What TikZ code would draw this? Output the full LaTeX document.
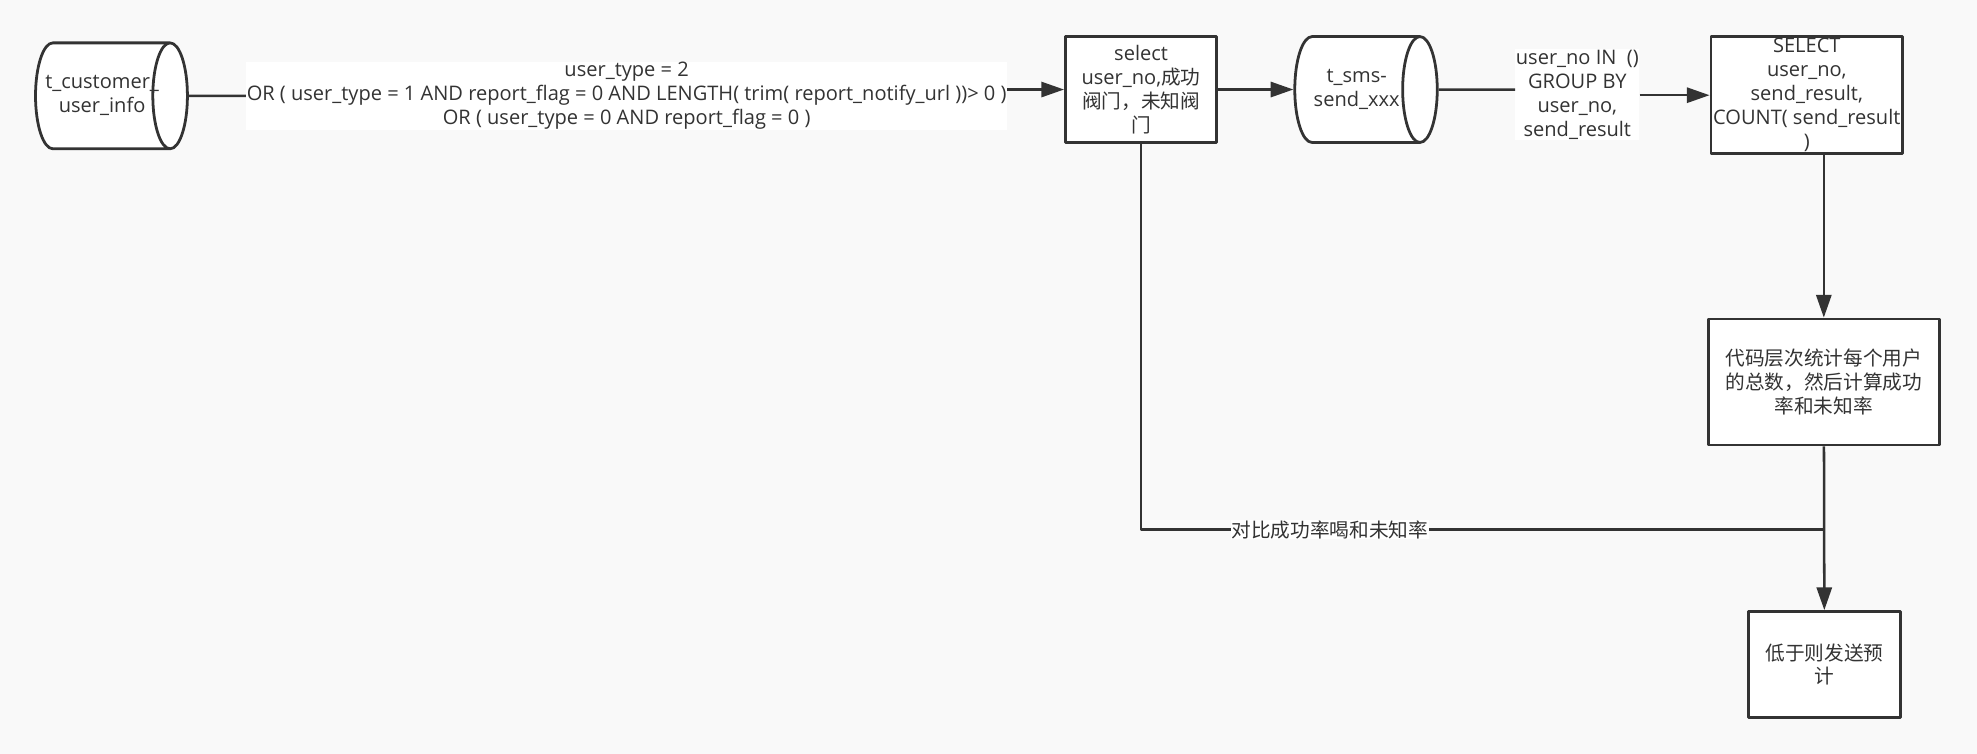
\documentclass[tikz,border=0pt]{standalone}
\usepackage{fontspec}
\setmainfont{Open Sans}
\newfontfamily\cjk{Noto Sans CJK SC}
\newcommand\zhtxt[1]{{\cjk\fontsize{15.6}{19}\selectfont #1}}
\usetikzlibrary{shapes.geometric,arrows.meta}
\definecolor{ink}{HTML}{333333}
\definecolor{paper}{HTML}{F9F9F9}
\tikzset{
  box/.style={draw=ink,fill=white,line width=2.2pt,align=center,text=ink,inner sep=0pt},
  db/.style={cylinder,draw=ink,fill=white,line width=2.2pt,align=center,text=ink,aspect=0.86,inner ysep=0pt,inner xsep=-6pt,minimum width=84pt,minimum height=113pt},
  lbl/.style={fill=white,text=ink,align=center,inner sep=0.5pt},
  flow/.style={draw=ink,line width=2pt,-{Triangle[length=18pt,width=12pt]}},
  link/.style={draw=ink,line width=2pt}
}
\begin{document}
\begin{tikzpicture}[x=1pt,y=-1pt,line join=round,every node/.style={font=\fontsize{15.9}{19}\selectfont}]
\fill[paper] (0,0) rectangle (1568,598);
\useasboundingbox (0,0) rectangle (1568,598);
\node[db] (cust) at (81,76) {t\_customer\_\\user\_info};
\node[box,minimum width=120pt,minimum height=84pt] (sel) at (905,71) {select\\user\_no,\zhtxt{成功}\\\zhtxt{阀门，未知阀}\\\zhtxt{门}};
\node[db] (sms) at (1076,71) {t\_sms-\\send\_xxx};
\node[box,minimum width=152pt,minimum height=93pt] (cnt) at (1433,75.5) {SELECT\\user\_no,\\send\_result,\\COUNT( send\_result\\)};
\node[box,minimum width=183pt,minimum height=100pt] (calc) at (1446.5,303) {\zhtxt{代码层次统计每个用户}\\\zhtxt{的总数，然后计算成功}\\\zhtxt{率和未知率}};
\node[box,minimum width=120pt,minimum height=84pt] (low) at (1447,527) {\zhtxt{低于则发送预}\\\zhtxt{计}};
\node[lbl] (q1) at (497,76) {user\_type = 2\\OR ( user\_type = 1 AND report\_flag = 0 AND LENGTH( trim( report\_notify\_url ))> 0 )\\OR ( user\_type = 0 AND report\_flag = 0 )};
\node[lbl] (q2) at (1251,75) {user\_no IN ~()\\GROUP BY\\user\_no,\\send\_result};
\coordinate (j) at (1447,420);
% connectors
\draw[link] (cust.east) -- (q1.west);
\draw[flow] (q1.east |- sel) -- (sel.west);
\draw[flow] (sel) -- (sms);
\draw[link] (sms.east) -- (q2.west |- sms);
\draw[flow] (q2.east |- cnt) -- (cnt.west);
\draw[flow] (cnt.south -| calc) -- (calc);
\draw[link] (sel) |- node[lbl,pos=0.638]{\zhtxt{对比成功率喝和未知率}} (j);
\draw[flow] (calc) -- (low);
\end{tikzpicture}
\end{document}
